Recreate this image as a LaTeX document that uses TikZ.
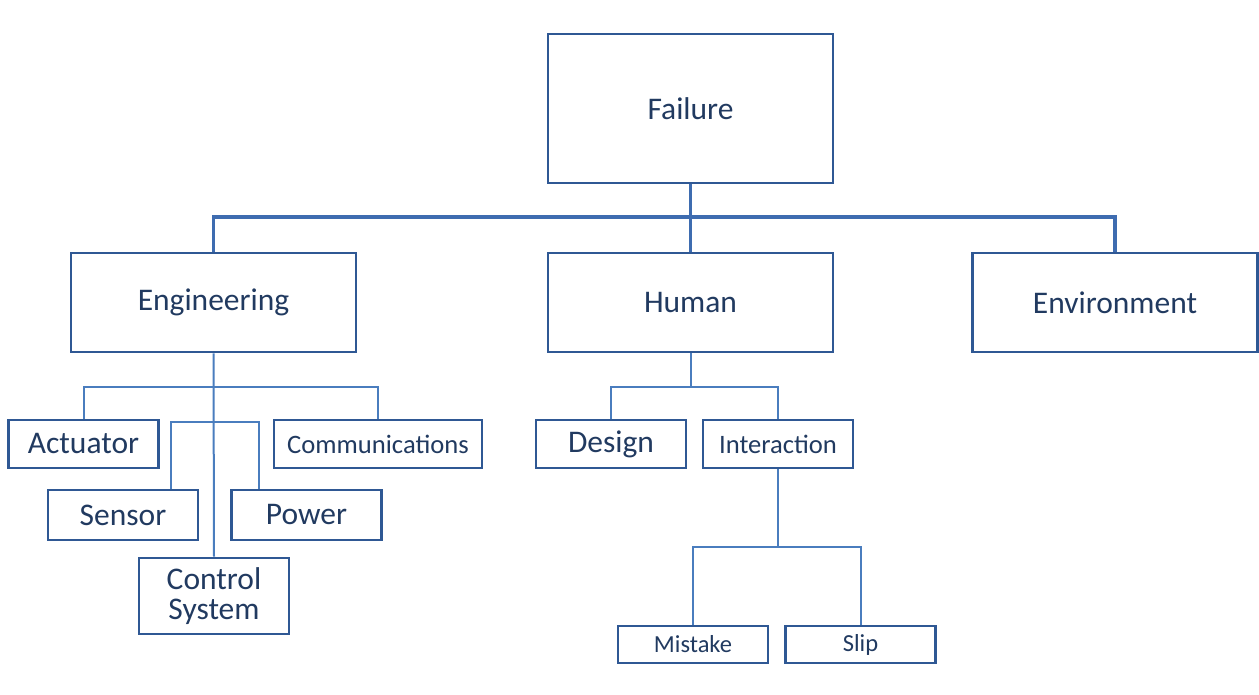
\documentclass[tikz,border=0pt]{standalone}
\usepackage{fontspec}
\setmainfont{Carlito}
\usepackage{tikz}
\usetikzlibrary{positioning}

\definecolor{boxblue}{RGB}{47,88,148}
\definecolor{linkblue}{RGB}{74,125,190}
\definecolor{busblue}{RGB}{62,108,176}
\definecolor{txtblue}{RGB}{33,58,96}

\begin{document}
\begin{tikzpicture}[x=1pt,y=-1pt,
    box/.style={draw=boxblue,line width=2.6pt,text=txtblue,inner sep=0pt,
      align=center,font=\fontsize{31.5}{30}\selectfont},
    smallbox/.style={box,font=\fontsize{26.6}{28}\selectfont},
    tinybox/.style={box,font=\fontsize{24.5}{26}\selectfont},
    link/.style={draw=linkblue,line width=2pt},
    bus/.style={draw=busblue,line width=3.6pt}]
      \useasboundingbox (0,0) rectangle (1259,695);

      \def\bw{285}
      \def\bh{99}

      \def\cw{150}
      \def\ch{48}

      % top level
      \path node (fail) at (690.5,108.5)
            [box,minimum width=\bw,minimum height=149] {Failure};

      \path node (eng) at (213.5,302.5)
            [box,minimum width=\bw,minimum height=\bh] {Engineering};
      \path node (hum) at (690.5,302.5)
            [box,minimum width=\bw,minimum height=\bh] {Human};
      \path node (env) at (1115,302.5)
            [box,minimum width=\bw,minimum height=\bh] {Environment};

      % engineering causes
      \path node (act) at (83.5,444)
            [box,minimum width=\cw,minimum height=\ch] {Actuator};
      \path node (comm) at (378,444)
            [smallbox,minimum width=208,minimum height=\ch] {Communications};
      \path node (sens) at (123,515)
            [box,minimum width=\cw,minimum height=50] {Sensor};
      \path node (pow) at (306.5,515)
            [box,minimum width=\cw,minimum height=50] {Power};
      \path node (ctrl) at (214,596)
            [box,minimum width=\cw,minimum height=76] {Control\\System};

      % human causes
      \path node (des) at (611,444)
            [box,minimum width=\cw,minimum height=\ch] {Design};
      \path node (inter) at (778,444)
            [smallbox,minimum width=\cw,minimum height=\ch] {Interaction};
      \path node (mist) at (693,644.5)
            [tinybox,minimum width=\cw,minimum height=37] {Mistake};
      \path node (slip) at (860.5,644.5)
            [tinybox,minimum width=\cw,minimum height=37] {Slip};

      % bus points
      \coordinate (top) at (690.5,217);
      \coordinate (engbar) at (214,387);
      \coordinate (engbar2) at (214,422);
      \coordinate (humbar) at (690.5,387);
      \coordinate (intbar) at (778,547);

      % connectors
      \draw[bus] (fail.south) -- (hum.north);
      \draw[bus] (eng.north) |- (top) -| (env.north);

      \draw[link] (eng.south) -- (ctrl.north);
      \draw[link] (act.north) |- (engbar) -| (comm.north);
      \draw[link] ([xshift=47.5pt]sens.north) |- (engbar2)
                  -| ([xshift=-47.5pt]pow.north);

      \draw[link] (hum.south) -- (humbar);
      \draw[link] (des.north) |- (humbar) -| (inter.north);
      \draw[link] (inter.south) -- (intbar);
      \draw[link] (mist.north) |- (intbar) -| (slip.north);
\end{tikzpicture}
\end{document}
